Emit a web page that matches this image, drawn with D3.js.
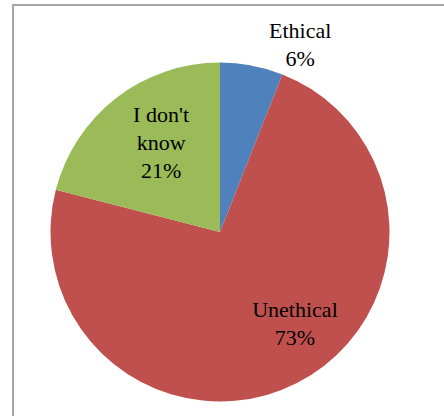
<!DOCTYPE html>
<html>
<head>
<meta charset="utf-8">
<script src="https://cdn.jsdelivr.net/npm/d3@7"></script>
<style>
  html, body { margin: 0; padding: 0; background: #fff; }
  svg { display: block; }
</style>
</head>
<body>
<svg id="chart" width="444" height="416"></svg>
<script>
const categories = ["Ethical", "Unethical", "I don't know"];
const values = [6, 73, 21];
const labelLines = [["Ethical", "6%"], ["Unethical", "73%"], ["I don't", "know", "21%"]];
const colors = ["#4F81BD", "#C0504D", "#9BBB59"];

const svg = d3.select("#chart");
const W = 444, H = 416;

// chart frame
svg.append("rect")
  .attr("x", 13).attr("y", 5)
  .attr("width", W + 20).attr("height", H + 20)
  .attr("fill", "#fff")
  .attr("stroke", "#a6a6a6")
  .attr("stroke-width", 2);

const cx = 220, cy = 232, r = 169.5;
const g = svg.append("g").attr("transform", `translate(${cx},${cy})`);

const pie = d3.pie().sort(null).value(d => d.value);
const data = categories.map((c, i) => ({ cat: c, value: values[i], lines: labelLines[i], color: colors[i] }));
const arcs = pie(data);
const arc = d3.arc().innerRadius(0).outerRadius(r);

g.selectAll("path").data(arcs).enter().append("path")
  .attr("d", arc)
  .attr("fill", d => d.data.color);

// label layout (best-fit style): radius factor and angular nudge (degrees) per slice
const labelRadius = [1.2, 0.70, 0.63];
const labelNudge = [12.4, -12.2, 4.3];
const lineH = 28;
const fontSize = 22;

arcs.forEach((d, i) => {
  const a = (d.startAngle + d.endAngle) / 2 + labelNudge[i] * Math.PI / 180;
  const rr = r * labelRadius[i];
  const x = rr * Math.sin(a), y = -rr * Math.cos(a);
  const n = d.data.lines.length;
  const t = g.append("text")
    .attr("text-anchor", "middle")
    .attr("font-family", "'Liberation Serif', 'Times New Roman', serif")
    .attr("font-size", fontSize)
    .attr("fill", "#000");
  d.data.lines.forEach((ln, k) => {
    t.append("tspan")
      .attr("x", x)
      .attr("y", y + (k - (n - 1) / 2) * lineH + fontSize * 0.33)
      .text(ln);
  });
});
</script>
</body>
</html>
